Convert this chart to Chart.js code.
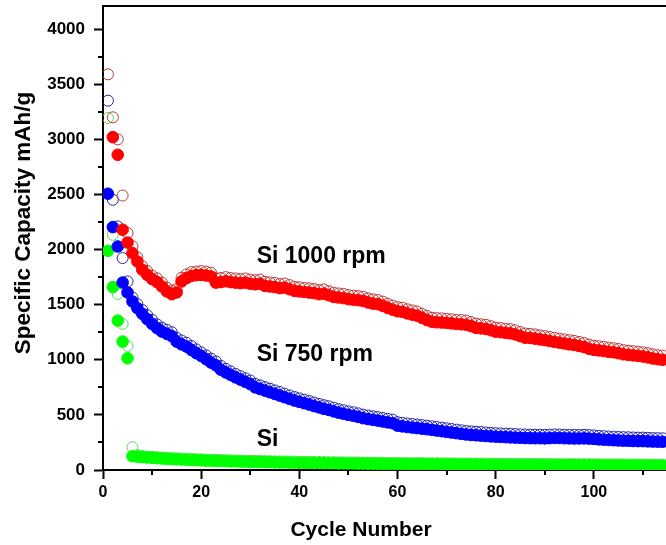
<!DOCTYPE html>
<html>
<head>
<meta charset="utf-8">
<script src="https://cdn.jsdelivr.net/npm/chart.js@4.4.1/dist/chart.umd.min.js"></script>
<style>
  html, body { margin: 0; padding: 0; background: #fff; }
  #chart { display: block; }
</style>
</head>
<body>
<canvas id="chart" width="666" height="545"></canvas>
<script>
// --- data (capacity in mAh/g per cycle) ---
const cycles = [
  1,2,3,4,5,6,7,8,9,10,11,12,13,14,15,16,17,18,19,20,
  21,22,23,24,25,26,27,28,29,30,31,32,33,34,35,36,37,38,39,40,
  41,42,43,44,45,46,47,48,49,50,51,52,53,54,55,56,57,58,59,60,
  61,62,63,64,65,66,67,68,69,70,71,72,73,74,75,76,77,78,79,80,
  81,82,83,84,85,86,87,88,89,90,91,92,93,94,95,96,97,98,99,100,
  101,102,103,104,105,106,107,108,109,110,111,112,113,114
];

// Si 1000 rpm
const red1000Dis = [
  null,3020,2860,2180,2064,1968,1892,1817,1771,1732,
  1705,1665,1620,1595,1611,1711,1741,1760,1768,1770,
  1765,1756,1700,1705,1712,1705,1700,1695,1700,1690,
  1685,1690,1670,1665,1660,1650,1655,1640,1625,1620,
  1615,1610,1605,1595,1600,1585,1570,1565,1560,1550,
  1545,1540,1535,1520,1510,1505,1490,1470,1455,1440,
  1435,1420,1410,1400,1380,1360,1345,1340,1338,1335,
  1330,1325,1322,1318,1305,1290,1285,1280,1268,1255,
  1250,1245,1240,1230,1215,1200,1198,1192,1185,1178,
  1170,1162,1155,1148,1140,1135,1125,1115,1100,1090,
  1085,1080,1072,1068,1060,1050,1045,1040,1036,1030,
  1022,1012,1005,1000
];
const red1000Chg = [
  3590,3200,3000,2490,2150,2030,1930,1850,1805,1765,
  1740,1700,1655,1630,1640,1745,1775,1795,1800,1805,
  1800,1790,1740,1742,1750,1742,1738,1732,1738,1728,
  1722,1728,1708,1702,1698,1688,1692,1678,1662,1658,
  1652,1648,1642,1632,1638,1622,1608,1602,1598,1588,
  1582,1578,1572,1558,1548,1542,1528,1508,1492,1478,
  1472,1458,1448,1438,1418,1398,1382,1378,1376,1372,
  1368,1362,1360,1356,1342,1328,1322,1318,1305,1292,
  1288,1282,1278,1268,1252,1238,1235,1230,1222,1215,
  1208,1200,1192,1185,1178,1172,1162,1152,1138,1128,
  1122,1118,1110,1105,1098,1088,1082,1078,1074,1068,
  1060,1050,1042,1038
];

// Si 750 rpm
const blue750Dis = [
  2507,2204,2028,1701,1611,1529,1468,1417,1369,1326,
  1287,1256,1235,1215,1165,1140,1120,1090,1060,1035,
  1005,975,950,910,885,863,840,820,800,780,
  750,735,720,705,690,675,660,645,630,618,
  606,594,580,568,555,545,532,520,510,500,
  492,482,470,462,455,448,440,432,425,402,
  396,390,385,380,375,370,364,358,352,346,
  340,334,328,322,318,315,312,308,305,302,
  300,298,296,294,292,290,289,288,288,287,
  289,291,290,288,287,286,286,287,285,282,
  278,275,272,270,268,266,265,263,262,262,
  260,258,257,256
];
const blue750Chg = [
  3351,2452,2210,1923,1711,1565,1505,1452,1405,1362,
  1322,1292,1272,1250,1200,1175,1155,1125,1095,1068,
  1040,1010,985,945,918,895,872,852,832,812,
  782,768,752,738,722,708,692,676,662,650,
  638,626,612,600,588,578,565,552,542,532,
  524,514,502,494,487,480,472,464,457,434,
  428,422,417,412,407,402,396,390,384,378,
  372,366,360,354,350,347,344,340,337,334,
  332,330,328,326,324,322,321,320,320,319,
  321,323,322,320,319,318,318,319,317,314,
  310,307,304,302,300,298,297,295,294,294,
  292,290,289,288
];

// Si
const greenSiDis = [
  1989,1659,1356,1165,1014,125,121,117,113,110,
  107,104,101,99,97,95,93,91,89,87,
  85,84,82,81,80,78,77,76,75,74,
  73,72,71,70,69,68,68,67,66,65,
  65,64,63,63,62,61,61,60,60,59,
  59,58,58,57,57,56,56,55,55,55,
  54,54,53,53,53,52,52,52,51,51,
  51,50,50,50,49,49,49,48,48,48,
  48,47,47,47,46,46,46,46,45,45,
  45,45,44,44,44,44,43,43,43,43,
  42,42,42,42,42,41,41,41,41,41,
  40,40,40,40
];
const greenSiChg = [
  3194,2134,1598,1326,1126,206,135,128,123,120,
  117,114,111,109,107,105,103,101,99,97,
  95,94,92,91,90,88,87,86,85,84,
  83,82,81,80,79,78,78,77,76,75,
  75,74,73,73,72,71,71,70,70,69,
  69,68,68,67,67,66,66,65,65,65,
  64,64,63,63,63,62,62,62,61,61,
  61,60,60,60,59,59,59,58,58,58,
  58,57,57,57,56,56,56,56,55,55,
  55,55,54,54,54,54,53,53,53,53,
  52,52,52,52,52,51,51,51,51,51,
  50,50,50,50
];

const xMajor = [0, 20, 40, 60, 80, 100];
const xMinor = [10, 30, 50, 70, 90, 110];
const yMajor = [0, 500, 1000, 1500, 2000, 2500, 3000, 3500, 4000];
const yMinor = [250, 750, 1250, 1750, 2250, 2750, 3250, 3750];

// series labels written on the plot, in data units
const notes = [
  { text: "Si 1000 rpm", x: 31.3, y: 1935 },
  { text: "Si 750 rpm", x: 31.3, y: 1045 },
  { text: "Si", x: 31.3, y: 272 }
];

const FONT = '"Liberation Sans", Arial, sans-serif';

function pts(ys) {
  return cycles.map((c, i) => ({ x: c, y: ys[i] }));
}

function filled(label, ys, color) {
  return {
    label: label, data: pts(ys), order: 0,
    pointRadius: 5.8, pointHoverRadius: 5.8,
    backgroundColor: color, borderColor: color, borderWidth: 1,
    showLine: false
  };
}

function hollow(label, ys, color) {
  return {
    label: label, data: pts(ys), order: 1,
    pointRadius: 5.5, pointHoverRadius: 5.5,
    backgroundColor: "rgba(255,255,255,0)", borderColor: color, borderWidth: 1,
    showLine: false
  };
}

// tick marks, top frame, axis titles and curve labels
const extras = {
  id: "extras",
  afterDraw(chart) {
    const { ctx, chartArea: a, scales: { x, y } } = chart;
    ctx.save();
    ctx.strokeStyle = "#000";
    ctx.lineWidth = 2;
    ctx.beginPath();
    ctx.moveTo(a.left - 1, a.top);
    ctx.lineTo(a.right, a.top);
    xMinor.forEach(v => {
      const px = Math.round(x.getPixelForValue(v));
      ctx.moveTo(px, a.bottom);
      ctx.lineTo(px, a.bottom + 5);
    });
    yMinor.forEach(v => {
      const py = Math.round(y.getPixelForValue(v));
      ctx.moveTo(a.left, py);
      ctx.lineTo(a.left - 5, py);
    });
    ctx.stroke();

    ctx.fillStyle = "#000";
    ctx.font = "bold 23px " + FONT;
    ctx.textAlign = "left";
    ctx.textBaseline = "middle";
    notes.forEach(n => {
      ctx.fillText(n.text, x.getPixelForValue(n.x), y.getPixelForValue(n.y));
    });

    ctx.textAlign = "center";
    ctx.font = "bold 21px " + FONT;
    ctx.fillText("Cycle Number", 361, 530);
    ctx.font = "bold 22.5px " + FONT;
    ctx.translate(24, 223);
    ctx.rotate(-Math.PI / 2);
    ctx.fillText("Specific Capacity mAh/g", 0, 0);
    ctx.restore();
  }
};

new Chart(document.getElementById("chart"), {
  type: "scatter",
  data: {
    datasets: [
      filled("Si 1000 rpm", red1000Dis, "#ff0000"),
      filled("Si 750 rpm", blue750Dis, "#0000ff"),
      filled("Si", greenSiDis, "#00ff00"),
      hollow("Si 1000 rpm charge", red1000Chg, "#b83a3a"),
      hollow("Si 750 rpm charge", blue750Chg, "#2626a8"),
      hollow("Si charge", greenSiChg, "#5ad65a")
    ]
  },
  options: {
    responsive: false,
    animation: false,
    layout: { autoPadding: false, padding: { top: 6, right: 0, left: 0, bottom: 0 } },
    plugins: { legend: { display: false }, tooltip: { enabled: false } },
    scales: {
      x: {
        type: "linear", min: 0, max: 114.7,
        border: { display: true, color: "#000", width: 2 },
        grid: { display: true, drawOnChartArea: false, tickLength: 9, tickWidth: 2, tickColor: "#000" },
        ticks: { color: "#000", font: { family: FONT, size: 16, weight: "bold" }, padding: 4, maxRotation: 0,
                 callback: v => String(v) },
        afterBuildTicks: s => { s.ticks = xMajor.map(v => ({ value: v })); },
        afterFit: s => { s.height = 75; s.paddingLeft = 0; s.paddingRight = 0; }
      },
      y: {
        min: 0, max: 4210,
        border: { display: true, color: "#000", width: 2 },
        grid: { display: true, drawOnChartArea: false, tickLength: 9, tickWidth: 2, tickColor: "#000" },
        ticks: { color: "#000", font: { family: FONT, size: 17, weight: "bold" }, padding: 9,
                 callback: v => String(v) },
        afterBuildTicks: s => { s.ticks = yMajor.map(v => ({ value: v })); },
        afterFit: s => { s.width = 103; s.paddingTop = 0; s.paddingBottom = 0; }
      }
    }
  },
  plugins: [extras]
});
</script>
</body>
</html>
